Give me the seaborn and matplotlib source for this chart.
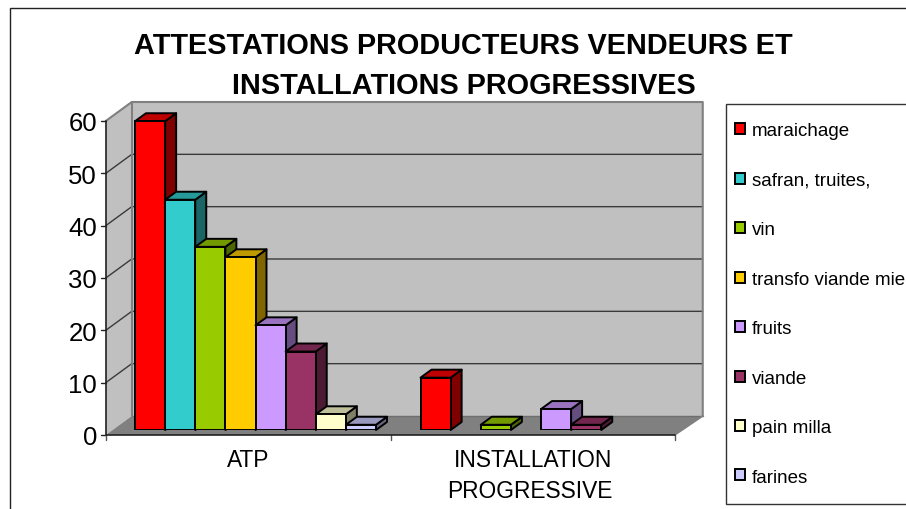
import matplotlib
matplotlib.use("Agg")
import matplotlib.pyplot as plt
import numpy as np
import pandas as pd
import seaborn as sns
from matplotlib.patches import Polygon, Rectangle
from matplotlib.lines import Line2D
from matplotlib.transforms import IdentityTransform, ScaledTranslation

categories = ["ATP", "INSTALLATION\nPROGRESSIVE"]
series = ["maraichage", "safran, truites,", "vin", "transfo viande mie",
          "fruits", "viande", "pain milla", "farines"]
atp_values = [59, 44, 35, 33, 20, 15, 3, 1]
installation_values = [10, 0, 1, 0, 4, 1, 0, 0]
colors = ["#FF0000", "#33CCCC", "#99CC00", "#FFCC00",
          "#CC99FF", "#993366", "#FFFFCC", "#CCCCFF"]
y_ticks = [0, 10, 20, 30, 40, 50, 60]
title = "ATTESTATIONS PRODUCTEURS VENDEURS ET\nINSTALLATIONS PROGRESSIVES"

W, H, DPI = 906, 510, 100

sns.set_theme(style="white")
plt.rcParams["font.family"] = ["Liberation Sans", "DejaVu Sans"]

df = pd.DataFrame({
    "cat": [categories[0]] * len(series) + [categories[1]] * len(series),
    "serie": series * 2,
    "val": atp_values + installation_values,
})

fig = plt.figure(figsize=(W / DPI, H / DPI), dpi=DPI, facecolor="white")
# the axes is the plane of the bar fronts, walls are offset from it in pixels
ax = fig.add_axes([112.75 / W, (H - 431) / H, 571 / W, 314 / H])
ax.patch.set_visible(False)

sns.barplot(data=df, x="cat", y="val", hue="serie", hue_order=series,
            order=categories, palette=colors, saturation=1, width=0.844, gap=0,
            edgecolor="black", linewidth=1.4, ax=ax)
ax.set_xlim(-0.5, 1.5)
ax.set_ylim(0, 60)
ax.set_autoscale_on(False)
ax.set_xlabel("")
ax.set_ylabel("")
sns.despine(ax=ax, left=True, bottom=True)
fig.canvas.draw()

FRONT = (-7, -5)
FRONT_R = (-9, -5)
BACK = (19, 14)
BAR_D = (11, 8)


def px(x, y, off=(0, 0)):
    p = ax.transData.transform((x, y))
    return p[0] + off[0], p[1] + off[1]


def face(points, color, z, edge="none", lw=0):
    ax.add_patch(Polygon(points, closed=True, facecolor=color, edgecolor=edge,
                         linewidth=lw, transform=IdentityTransform(),
                         clip_on=False, zorder=z, joinstyle="round"))


def line(points, color, lw, z):
    xs, ys = zip(*points)
    ax.add_line(Line2D(xs, ys, color=color, lw=lw, transform=IdentityTransform(),
                       clip_on=False, zorder=z))


x0, x1 = ax.get_xlim()
top = y_ticks[-1]

# walls and floor
face([px(x0, 0, BACK), px(x1, 0, BACK), px(x1, top, BACK), px(x0, top, BACK)], "#C0C0C0", 0.1)
face([px(x0, 0, FRONT), px(x0, 0, BACK), px(x0, top, BACK), px(x0, top, FRONT)], "#C0C0C0", 0.1)
face([px(x0, 0, FRONT), px(x1, 0, FRONT_R), px(x1, 0, BACK), px(x0, 0, BACK)], "#808080", 0.15)

for t in y_ticks[1:-1]:
    line([px(x0, t, FRONT), px(x0, t, BACK), px(x1, t, BACK)], "#3A3A3A", 1.0, 0.2)
for t in y_ticks:
    p = px(x0, t, FRONT)
    line([(p[0] - 5, p[1]), p], "#222222", 1.0, 0.3)

line([px(x0, top, FRONT), px(x0, top, BACK), px(x1, top, BACK), px(x1, 0, BACK)], "#808080", 1.5, 0.25)
line([px(x0, top, BACK), px(x0, 0, BACK)], "#808080", 1.5, 0.25)
line([px(x0, 0, BACK), px(x1, 0, BACK)], "#6E6E6E", 1.0, 0.2)
line([px(x1, 0, FRONT_R), px(x1, 0, BACK)], "#808080", 1.2, 0.25)
line([px(x0, top, FRONT), px(x0, 0, FRONT), px(x1, 0, FRONT_R)], "#222222", 1.2, 0.4)
for p in [px(x0, 0, FRONT), px(0.5, 0, FRONT), px(x1, 0, FRONT_R)]:
    line([p, (p[0], p[1] - 5)], "#555555", 1.0, 0.3)

# side and top of each bar, left to right so the next front covers the side
z = 2.0
bars = sorted([b for c in ax.containers for b in c], key=lambda b: b.get_x())
for bar in bars:
    h = bar.get_height()
    if h == 0:
        bar.set_visible(False)
        continue
    l, r = bar.get_x(), bar.get_x() + bar.get_width()
    c = np.array(matplotlib.colors.to_rgb(bar.get_facecolor()))
    face([px(r, 0), px(r, 0, BAR_D), px(r, h, BAR_D), px(r, h)], c * 0.5, z, "black", 1.4)
    face([px(l, h), px(r, h), px(r, h, BAR_D), px(l, h, BAR_D)], c * 0.75, z, "black", 1.4)
    bar.set_zorder(z + 0.1)
    z += 1

# tick labels sit on the front edge, not on the bar plane
ax.set_yticks(y_ticks)
ax.tick_params(axis="both", length=0, colors="black")
ax.tick_params(axis="y", labelsize=18.5, pad=6.3)
ax.tick_params(axis="x", labelsize=16.4, pad=9.5)
shift = ScaledTranslation(-7 / DPI, -5 / DPI, fig.dpi_scale_trans)
for lab in ax.get_yticklabels():
    lab.set_transform(lab.get_transform() + shift)
for lab, nudge in zip(ax.get_xticklabels(), [-7, -11]):
    lab.set_transform(lab.get_transform() + ScaledTranslation(nudge / DPI, -5 / DPI, fig.dpi_scale_trans))
    lab.set_multialignment("right")
    lab.set_linespacing(1.45)

# legend box is drawn apart: it runs off the right edge of the image
fig.add_artist(Rectangle((726 / W, (H - 504.5) / H), 0.3, 400 / H,
                         transform=fig.transFigure, facecolor="white",
                         edgecolor="#333333", linewidth=1.0, zorder=5))
sns.move_legend(ax, "upper left", bbox_to_anchor=(735 / W, 1 - 123.5 / H),
                bbox_transform=fig.transFigure, title=None, frameon=False,
                fontsize=13.5, labelcolor="black", labelspacing=1.73,
                handlelength=0.53, handleheight=0.53, handletextpad=0.37,
                borderpad=0, borderaxespad=0)
ax.get_legend().set_zorder(20)
ax.set_zorder(6)

fig.text(463.5 / W, 1 - 66 / H, title, ha="center", va="center", fontsize=20.8,
         fontweight="bold", color="black", linespacing=1.51)

# chart frame runs off the image on the right and at the bottom
fig.add_artist(Rectangle((9.5 / W, -0.1), 1.0, 0.1 + (H - 8.5) / H,
                         transform=fig.transFigure, fill=False,
                         edgecolor="#222222", linewidth=1.0))

fig.savefig("out.png", dpi=DPI)
